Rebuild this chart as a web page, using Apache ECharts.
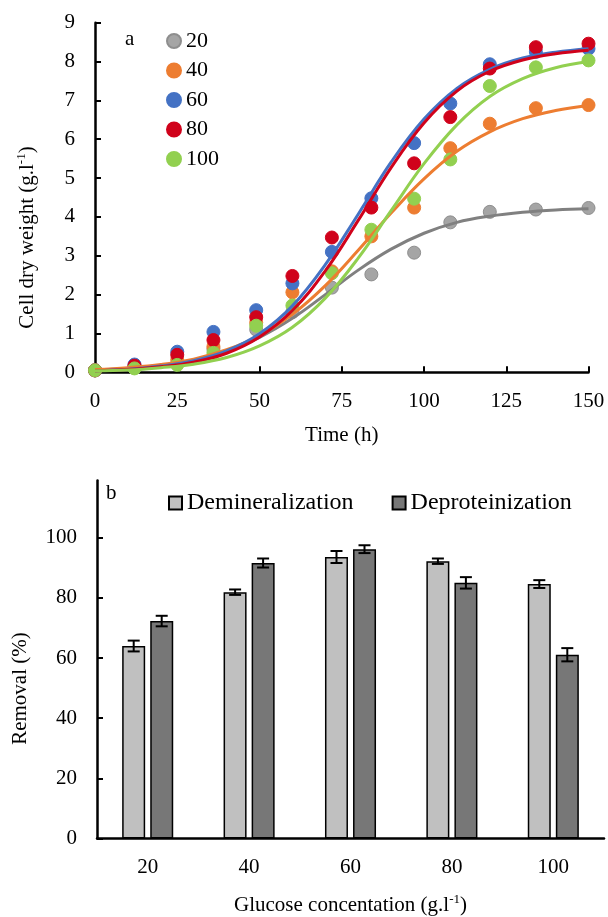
<!DOCTYPE html>
<html>
<head>
<meta charset="utf-8">
<script src="https://cdn.jsdelivr.net/npm/echarts@6/dist/echarts.min.js"></script>
<style>html,body{margin:0;padding:0;background:#fff}#c{width:608px;height:917px}</style>
</head>
<body>
<div id="c"></div>
<script>
// ---- Panel a: cell dry weight vs time ----
const times = [0, 12, 25, 36, 49, 60, 72, 84, 97, 108, 120, 134, 150];
const cdw20  = [0.05, 0.12, 0.22, 0.60, 1.10, 1.55, 2.18, 2.52, 3.08, 3.86, 4.13, 4.19, 4.23];
const cdw40  = [0.05, 0.15, 0.32, 0.66, 1.28, 2.06, 2.60, 3.50, 4.24, 5.77, 6.40, 6.80, 6.88];
const cdw60  = [0.05, 0.20, 0.53, 1.04, 1.60, 2.29, 3.10, 4.48, 5.90, 6.92, 7.93, 8.25, 8.33];
const cdw80  = [0.05, 0.17, 0.45, 0.83, 1.42, 2.48, 3.47, 4.24, 5.38, 6.57, 7.82, 8.37, 8.46];
const cdw100 = [0.05, 0.10, 0.19, 0.50, 1.20, 1.72, 2.55, 3.67, 4.47, 5.48, 7.37, 7.85, 8.03];

// fitted curves
const fitTimes = [0, 10, 20, 30, 40, 50, 60, 70, 80, 90, 100, 110, 120, 130, 140, 150];
const fit20  = [0.06, 0.10, 0.18, 0.32, 0.54, 0.90, 1.39, 2.00, 2.63, 3.17, 3.58, 3.86, 4.02, 4.12, 4.18, 4.21];
const fit40  = [0.07, 0.12, 0.20, 0.34, 0.58, 0.94, 1.49, 2.23, 3.14, 4.10, 4.98, 5.69, 6.19, 6.53, 6.74, 6.87];
const fit60  = [0.04, 0.08, 0.16, 0.30, 0.55, 0.99, 1.71, 2.77, 4.07, 5.41, 6.52, 7.31, 7.80, 8.09, 8.24, 8.33];
const fit80  = [0.04, 0.07, 0.14, 0.26, 0.49, 0.91, 1.59, 2.61, 3.91, 5.27, 6.42, 7.24, 7.75, 8.04, 8.20, 8.29];
const fit100 = [0.04, 0.06, 0.12, 0.21, 0.38, 0.68, 1.16, 1.91, 2.94, 4.16, 5.37, 6.37, 7.10, 7.56, 7.84, 8.00];

const seriesNames = ['20', '40', '60', '80', '100'];
const xTicksA = [0, 25, 50, 75, 100, 125, 150];

// ---- Panel b: removal ----
const glucose = ['20', '40', '60', '80', '100'];
const demin    = [64.0, 81.9, 93.6, 92.2, 84.6];
const deminErr = [1.8, 0.9, 2.0, 0.9, 1.3];
const deprot    = [72.3, 91.6, 96.2, 85.0, 61.1];
const deprotErr = [1.75, 1.5, 1.3, 1.9, 2.2];
const yTicksB = [0, 20, 40, 60, 80, 100];

const FONT = '"Liberation Serif", "Times New Roman", serif';
const markerColors = ['#A5A5A5', '#ED7D31', '#4472C4', '#D0021B', '#92D050'];
const lineColors   = ['#808080', '#ED7D31', '#4472C4', '#D0021B', '#92D050'];
const pointData = [cdw20, cdw40, cdw60, cdw80, cdw100];
const fitData = [fit20, fit40, fit60, fit80, fit100];

const zip = (xs, ys) => xs.map((x, i) => [x, ys[i]]);

const series = [];
pointData.forEach((arr, i) => {
  series.push({
    name: seriesNames[i], type: 'scatter', xAxisIndex: 0, yAxisIndex: 0,
    data: zip(times, arr), symbol: 'circle', symbolSize: 13, z: 2 + i * 0.01,
    itemStyle: { color: markerColors[i], borderColor: i === 0 ? '#8E8E8E' : markerColors[i], borderWidth: 1, opacity: 1 }
  });
});
fitData.forEach((arr, i) => {
  series.push({
    name: 'fit' + seriesNames[i], type: 'line', xAxisIndex: 0, yAxisIndex: 0,
    data: zip(fitTimes, arr), smooth: 0.4, showSymbol: false, symbol: 'none', z: 5,
    lineStyle: { color: lineColors[i], width: 3 }, itemStyle: { color: lineColors[i] }
  });
});

function errRender(offset) {
  return function (params, api) {
    const c = api.value(0), v = api.value(1), e = api.value(2);
    const t = api.coord([c, v + e]);
    const b = api.coord([c, v - e]);
    const x = t[0] + offset;
    const st = { stroke: '#000', lineWidth: 2 };
    return {
      type: 'group', children: [
        { type: 'line', shape: { x1: x, y1: t[1], x2: x, y2: b[1] }, style: st },
        { type: 'line', shape: { x1: x - 6, y1: t[1], x2: x + 6, y2: t[1] }, style: st },
        { type: 'line', shape: { x1: x - 6, y1: b[1], x2: x + 6, y2: b[1] }, style: st }
      ]
    };
  };
}

series.push({
  name: 'Demineralization', type: 'bar', xAxisIndex: 1, yAxisIndex: 1,
  data: demin, barWidth: 23, barGap: '22%',
  itemStyle: { color: '#C0C0C0', borderColor: '#000', borderWidth: 1.5 }
});
series.push({
  name: 'Deproteinization', type: 'bar', xAxisIndex: 1, yAxisIndex: 1,
  data: deprot, barWidth: 23, barGap: '22%',
  itemStyle: { color: '#777777', borderColor: '#000', borderWidth: 1.5 }
});
series.push({
  name: 'errDemin', type: 'custom', xAxisIndex: 1, yAxisIndex: 1, z: 10,
  data: demin.map((v, i) => [i, v, deminErr[i]]), renderItem: errRender(-14)
});
series.push({
  name: 'errDeprot', type: 'custom', xAxisIndex: 1, yAxisIndex: 1, z: 10,
  data: deprot.map((v, i) => [i, v, deprotErr[i]]), renderItem: errRender(14)
});

const axisLine = { show: true, lineStyle: { color: '#000', width: 2.5 } };
const tick = { show: true, inside: true, length: 6, lineStyle: { color: '#000', width: 2 } };
const lbl = { color: '#000', fontFamily: FONT, fontSize: 21 };
const supRich = {
  n: { fontFamily: FONT, fontSize: 21, color: '#000', lineHeight: 24 },
  sup: { fontFamily: FONT, fontSize: 13, color: '#000', lineHeight: 24, verticalAlign: 'top' }
};

const option = {
  animation: false,
  backgroundColor: '#fff',
  textStyle: { fontFamily: FONT },
  grid: [
    { left: 95, right: 19.5, top: 22.7, bottom: 917 - 372.3, containLabel: false },
    { left: 97, right: 4, top: 480.6, bottom: 77, containLabel: false }
  ],
  legend: [
    {
      data: seriesNames, orient: 'vertical', left: 166, top: 30, padding: 0,
      itemWidth: 14, itemHeight: 14, itemGap: 7.5, icon: 'circle',
      textStyle: { fontFamily: FONT, fontSize: 22, color: '#000', lineHeight: 21.5 }
    },
    {
      data: ['Demineralization', 'Deproteinization'], orient: 'horizontal', left: 168, top: 491, padding: 0,
      itemWidth: 13, itemHeight: 13, itemGap: 38, icon: 'rect',
      textStyle: { fontFamily: FONT, fontSize: 24, color: '#000' }
    }
  ],
  xAxis: [
    {
      gridIndex: 0, type: 'value', min: 0, max: 150, interval: 25,
      axisLine, axisTick: tick, splitLine: { show: false },
      axisLabel: Object.assign({ margin: 19 }, lbl),
      name: 'Time (h)', nameLocation: 'middle', nameGap: 53,
      nameTextStyle: { fontFamily: FONT, fontSize: 21, color: '#000' }
    },
    {
      gridIndex: 1, type: 'category', data: glucose,
      axisLine, axisTick: { show: false }, splitLine: { show: false },
      axisLabel: Object.assign({ margin: 18 }, lbl),
      name: '{n|Glucose concentation (g.l}{sup|-1}{n|)}', nameLocation: 'middle', nameGap: 55,
      nameTextStyle: { rich: supRich }
    }
  ],
  yAxis: [
    {
      gridIndex: 0, type: 'value', min: 0, max: 9, interval: 1,
      axisLine, axisTick: tick, splitLine: { show: false },
      axisLabel: Object.assign({ margin: 20 }, lbl),
      name: '{n|Cell dry weight (g.l}{sup|-1}{n|)}', nameLocation: 'middle', nameGap: 56, nameRotate: 90,
      nameTextStyle: { rich: supRich, padding: [0, 80, 0, 0] }
    },
    {
      gridIndex: 1, type: 'value', min: 0, max: 119, interval: 20,
      axisLine, splitLine: { show: false },
      axisTick: Object.assign({ customValues: yTicksB }, tick),
      axisLabel: Object.assign({ margin: 20, customValues: yTicksB }, lbl),
      name: 'Removal (%)', nameLocation: 'middle', nameGap: 66, nameRotate: 90,
      nameTextStyle: { fontFamily: FONT, fontSize: 21, color: '#000', padding: [0, 58, 0, 0] }
    }
  ],
  graphic: [
    { type: 'text', left: 125, top: 29, style: { text: 'a', fontFamily: FONT, fontSize: 21, fill: '#000' } },
    { type: 'text', left: 106, top: 483, style: { text: 'b', fontFamily: FONT, fontSize: 21, fill: '#000' } }
  ],
  series
};

const chart = echarts.init(document.getElementById('c'), null, { renderer: 'canvas' });
chart.setOption(option);
</script>
</body>
</html>
